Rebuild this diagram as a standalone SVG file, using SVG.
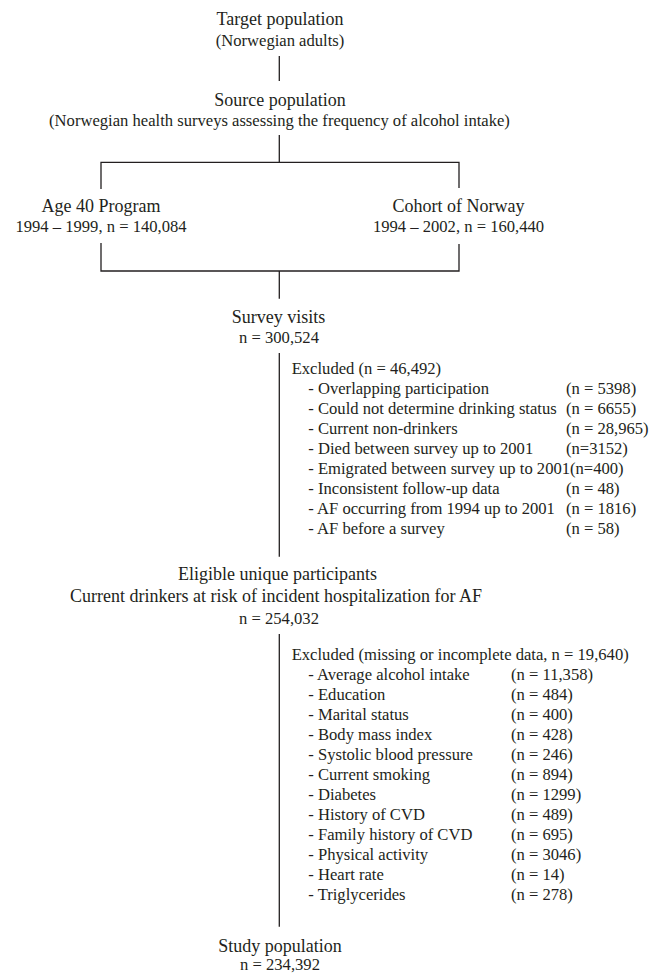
<svg xmlns="http://www.w3.org/2000/svg" width="659" height="973" viewBox="0 0 659 973">
<style>
text{font-family:"Liberation Serif","Times New Roman",serif;fill:#231f20}
.t{font-size:18px;text-anchor:middle}
.s{font-size:16.6px;text-anchor:middle}
.l{font-size:16.6px}
.c line,.c polyline{stroke:#231f20;stroke-width:1.3;fill:none}
</style>
<rect width="659" height="973" fill="#fff"/>
<g class="c" id="connectors">
<line x1="279.3" y1="56" x2="279.3" y2="81"/>
<polyline points="279.3,135 279.3,162.3"/>
<polyline points="101,189 101,162.3 459,162.3 459,188"/>
<polyline points="101,243 101,271 459,271 459,244"/>
<line x1="279.3" y1="271" x2="279.3" y2="298.7"/>
<line x1="279.3" y1="353" x2="279.3" y2="556.7"/>
<line x1="279.3" y1="634" x2="279.3" y2="926.7"/>
</g>
<g id="target">
<text class="t" x="280" y="25">Target population</text>
<text class="s" x="280" y="45.5">(Norwegian adults)</text>
</g>
<g id="source">
<text class="t" x="280" y="106">Source population</text>
<text class="s" x="279.5" y="126">(Norwegian health surveys assessing the frequency of alcohol intake)</text>
</g>
<g id="age40">
<text class="t" x="101" y="211.7">Age 40 Program</text>
<text class="s" x="101" y="232.3">1994 – 1999, n = 140,084</text>
</g>
<g id="conor">
<text class="t" x="458.5" y="211.7">Cohort of Norway</text>
<text class="s" x="458.5" y="232.3">1994 – 2002, n = 160,440</text>
</g>
<g id="survey">
<text class="t" x="278.5" y="322.7">Survey visits</text>
<text class="s" x="279" y="343.3">n = 300,524</text>
</g>
<g id="excluded1" class="l">
<text x="291.7" y="374.3">Excluded (n = 46,492)</text>
<text x="308.3" y="394.3">- Overlapping participation</text><text x="566" y="394.3">(n = 5398)</text>
<text x="308.3" y="414.3">- Could not determine drinking status</text><text x="566" y="414.3">(n = 6655)</text>
<text x="308.3" y="434.3">- Current non-drinkers</text><text x="566" y="434.3">(n = 28,965)</text>
<text x="308.3" y="454.3">- Died between survey up to 2001</text><text x="566" y="454.3">(n=3152)</text>
<text x="308.3" y="474.3">- Emigrated between survey up to 2001(n=400)</text>
<text x="308.3" y="494.3">- Inconsistent follow-up data</text><text x="566" y="494.3">(n = 48)</text>
<text x="308.3" y="514.3">- AF occurring from 1994 up to 2001</text><text x="566" y="514.3">(n = 1816)</text>
<text x="308.3" y="534.3">- AF before a survey</text><text x="566" y="534.3">(n = 58)</text>
</g>
<g id="eligible">
<text class="t" x="277.5" y="580">Eligible unique participants</text>
<text class="t" x="276" y="602">Current drinkers at risk of incident hospitalization for AF</text>
<text class="s" x="279" y="624">n = 254,032</text>
</g>
<g id="excluded2" class="l">
<text x="291.7" y="660">Excluded (missing or incomplete data, n = 19,640)</text>
<text x="308.3" y="680">- Average alcohol intake</text><text x="511" y="680">(n = 11,358)</text>
<text x="308.3" y="700">- Education</text><text x="511" y="700">(n = 484)</text>
<text x="308.3" y="720">- Marital status</text><text x="511" y="720">(n = 400)</text>
<text x="308.3" y="740">- Body mass index</text><text x="511" y="740">(n = 428)</text>
<text x="308.3" y="760">- Systolic blood pressure</text><text x="511" y="760">(n = 246)</text>
<text x="308.3" y="780">- Current smoking</text><text x="511" y="780">(n = 894)</text>
<text x="308.3" y="800">- Diabetes</text><text x="511" y="800">(n = 1299)</text>
<text x="308.3" y="820">- History of CVD</text><text x="511" y="820">(n = 489)</text>
<text x="308.3" y="840">- Family history of CVD</text><text x="511" y="840">(n = 695)</text>
<text x="308.3" y="860">- Physical activity</text><text x="511" y="860">(n = 3046)</text>
<text x="308.3" y="880">- Heart rate</text><text x="511" y="880">(n = 14)</text>
<text x="308.3" y="900">- Triglycerides</text><text x="511" y="900">(n = 278)</text>
</g>
<g id="study">
<text class="t" x="280" y="951.7">Study population</text>
<text class="s" x="280" y="970">n = 234,392</text>
</g>
</svg>
